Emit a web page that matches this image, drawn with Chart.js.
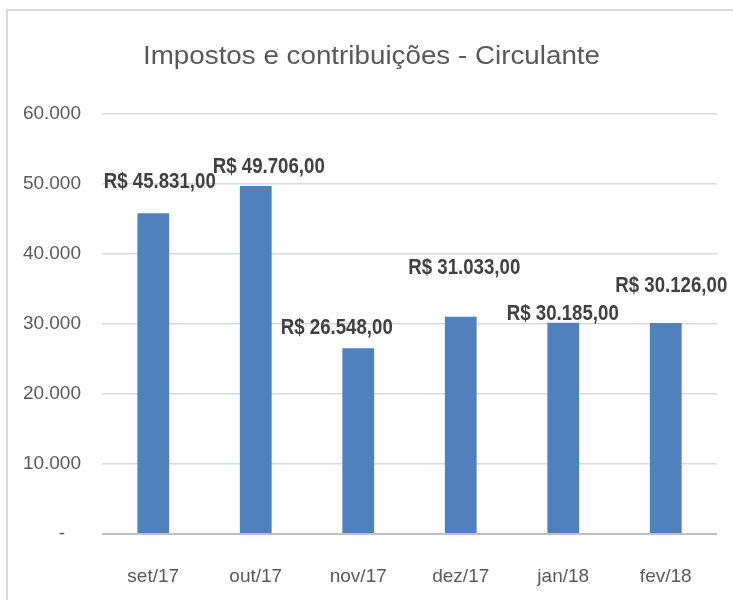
<!DOCTYPE html>
<html>
<head>
<meta charset="utf-8">
<script src="https://cdn.jsdelivr.net/npm/chart.js@4.4.0/dist/chart.umd.min.js"></script>
<style>
html,body{margin:0;padding:0;background:#fff;}
#wrap{width:733px;height:600px;position:relative;}
</style>
</head>
<body>
<div id="wrap"><canvas id="c" width="733" height="600"></canvas></div>
<script>
const titleText = "Impostos e contribuições - Circulante";
const categories = ["set/17", "out/17", "nov/17", "dez/17", "jan/18", "fev/18"];
const values = [45831, 49706, 26548, 31033, 30185, 30126];
const yTicks = [0, 10000, 20000, 30000, 40000, 50000, 60000];

// manual label offsets (px) relative to top-centre of each bar (text baseline), as placed in the original
const labelDx = [6.5, 13, -21.5, 3.5, -0.5, 5.5];
const labelDy = [-25, -13, -14, -43, -3, -31];

const FONT = "'Liberation Sans Narrow', 'Arial Narrow', 'Liberation Sans', sans-serif";

function fmtInt(v){
  return String(Math.round(v)).replace(/\B(?=(\d{3})+(?!\d))/g, ".");
}
function fmtMoney(v){
  return "R$ " + fmtInt(v) + ",00";
}

const decor = {
  id: "decor",
  beforeDraw(chart){
    const ctx = chart.ctx;
    ctx.save();
    ctx.strokeStyle = "#d9d9d9";
    ctx.lineWidth = 2;
    ctx.beginPath();
    ctx.moveTo(7, 600);
    ctx.lineTo(7, 10);
    ctx.lineTo(733, 10);
    ctx.stroke();
    ctx.fillStyle = "#595959";
    ctx.font = "25.5px " + FONT;
    ctx.textAlign = "center";
    ctx.textBaseline = "alphabetic";
    const w = ctx.measureText(titleText).width;
    const sx = 457 / w;
    ctx.translate(371.5, 63.5);
    ctx.scale(sx, 1);
    ctx.fillText(titleText, 0, 0);
    ctx.restore();
  },
  afterDatasetsDraw(chart){
    const ctx = chart.ctx;
    const meta = chart.getDatasetMeta(0);
    ctx.fillStyle = "#404040";
    meta.data.forEach((bar, i) => {
      ctx.save();
      ctx.fillStyle = "#404040";
      ctx.font = "bold 22px " + FONT;
      ctx.textAlign = "center";
      ctx.textBaseline = "alphabetic";
      const t = fmtMoney(values[i]);
      const w = ctx.measureText(t).width;
      ctx.translate(bar.x + labelDx[i], bar.y + labelDy[i]);
      ctx.scale(112 / w, 1);
      ctx.fillText(t, 0, 0);
      ctx.restore();
    });
  }
};

new Chart(document.getElementById("c"), {
  type: "bar",
  data: {
    labels: categories,
    datasets: [{
      data: values,
      backgroundColor: "#4f81bd",
      borderWidth: 0,
      categoryPercentage: 1,
      barPercentage: 0.31
    }]
  },
  options: {
    responsive: false,
    animation: false,
    devicePixelRatio: 1,
    layout: { padding: { top: 114, right: 16, left: 0, bottom: 0 } },
    plugins: { legend: { display: false }, title: { display: false }, tooltip: { enabled: false } },
    scales: {
      x: {
        grid: { display: false, drawTicks: false },
        border: { display: false },
        ticks: { color: "#595959", font: { family: FONT, size: 19 }, padding: 31 },
        afterFit(s){ s.height = 66; }
      },
      y: {
        min: 0, max: 60000,
        afterBuildTicks(s){ s.ticks = yTicks.map(v => ({ value: v })); },
        grid: {
          drawTicks: false,
          color: ctx => (ctx.tick && ctx.tick.value === 0) ? "#bfbfbf" : "#d9d9d9",
          lineWidth: ctx => (ctx.tick && ctx.tick.value === 0) ? 2 : 1.5
        },
        border: { display: false },
        ticks: {
          color: "#595959",
          font: { family: FONT, size: 19 },
          padding: 21,
          callback: v => v === 0 ? "-   " : fmtInt(v)
        },
        afterFit(s){ s.width = 102; }
      }
    }
  },
  plugins: [decor]
});
</script>
</body>
</html>
